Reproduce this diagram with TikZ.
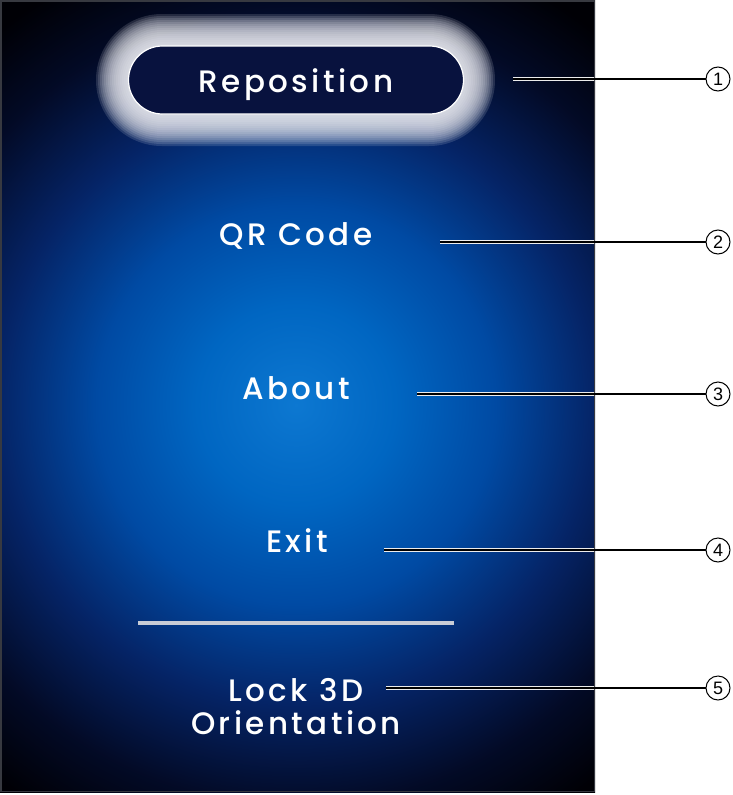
\documentclass[tikz,border=0pt]{standalone}
\usepackage{fontspec}
\setmainfont{Poppins}[UprightFont=* Medium,LetterSpace=11]
\newfontfamily\calloutfont{Liberation Sans}
\usetikzlibrary{positioning}
\definecolor{btnnavy}{RGB}{8,18,62}
\definecolor{glowgray}{RGB}{232,234,240}
\definecolor{rulegray}{RGB}{200,204,214}
\definecolor{framegray}{RGB}{55,57,64}
\pgfdeclareradialshading{panelglow}{\pgfpointorigin}{rgb(0bp)=(0.05,0.47,0.82); rgb(4.8bp)=(0,0.40,0.76); rgb(9.6bp)=(0,0.29,0.64); rgb(14.4bp)=(0.02,0.14,0.40); rgb(19.2bp)=(0.01,0.04,0.15); rgb(23bp)=(0,0,0.02); rgb(50bp)=(0,0,0)}

\begin{document}
\begin{tikzpicture}[x=1pt,y=-1pt,
		item/.style={text=white,font=\fontsize{31}{33}\selectfont,inner sep=0pt},
		callout/.style={circle,draw,line width=1pt,minimum size=24pt,inner sep=0pt,font=\calloutfont\fontsize{18}{18}\selectfont},
		leader/.style={line width=2pt},
		halo/.style={white!85!gray,line width=4pt}]
		\useasboundingbox (0,0) rectangle (732,795);
		\fill[white] (0,0) rectangle (732,795);
		\begin{scope}
			\clip (0,0) rectangle (595,792);
			\shade[shading=panelglow] (296,405) circle (520);
		\end{scope}
		\draw[framegray,line width=1.5pt] (0.75,0.75) rectangle (594.25,791.25);
		% glow round the button
		\foreach \g [evaluate=\g as \r using 34+2*\g] in {16,...,1}
			\fill[glowgray,opacity=0.15,rounded corners=\r pt] (128-2*\g,46-2*\g) rectangle (463+2*\g,114+2*\g);
		\node[item,draw=white,line width=1.2pt,fill=btnnavy,rounded corners=34pt,minimum width=335pt,minimum height=68pt,text height=24pt,text depth=0pt] (repo) at (296,80) {Reposition};
		\node[item,anchor=base] (qr) at (296,245) {QR Code};
		\node[item,anchor=base] (about) at (296,399) {About};
		\node[item,anchor=base] (exit) at (297,552) {Exit};
		\draw[rulegray,line width=4pt] (138,623) -- (454,623);
		\node[item,align=center] (lock) at (296,707) {Lock 3D\\Orientation};
		\foreach \n/\y/\x in {1/79/513,2/242/440,3/394/417,4/550/384,5/688/386}{
			\node[callout] (c\n) at (718,\y) {\n};
			\coordinate (e\n) at (\x,\y);
			\begin{scope}
				\clip (0,0) rectangle (594,792);
				\draw[halo] (e\n) -- (c\n);
			\end{scope}
			\draw[leader] (e\n) -- (c\n);
		}
	\end{tikzpicture}
\end{document}
